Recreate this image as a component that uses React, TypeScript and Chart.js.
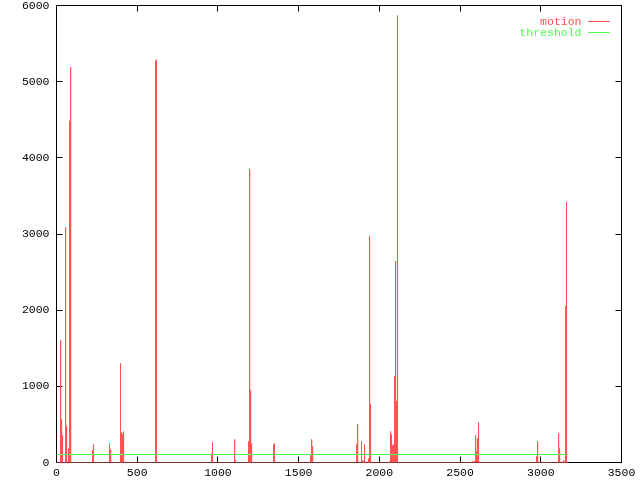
import React, { useEffect, useRef } from "react";
import { Chart, registerables } from "chart.js";

Chart.register(...registerables);

// ---- data ----
const seriesLabels = ["motion", "threshold"];
const seriesColors = ["#ff5252", "#52ff52"];

const motionStart = 0;
const motionEnd = 3170;
// frames where motion was detected, and the motion value at that frame
const spikeFrames = [
  25, 31, 37, 56, 62, 74, 81, 87,
  223, 229, 328, 335, 396, 403, 409, 415,
  613, 619, 960, 966, 1103, 1109,
  1189, 1196, 1202, 1208, 1344, 1350,
  1573, 1580, 1586, 1858, 1865, 1889, 1896, 1902, 1908,
  1933, 1939, 1945,
  2063, 2069, 2075, 2081, 2088, 2094, 2100, 2106, 2112,
  2577, 2583, 2589, 2596, 2602, 2608, 2614,
  2973, 2980, 3110, 3116, 3141, 3147, 3153, 3159,
];
const spikeValues = [
  1605, 566, 355, 3090, 473, 184, 4487, 5190,
  158, 237, 250, 171, 1302, 395, 368, 408,
  5276, 5290, 118, 263, 303, 26,
  276, 3855, 947, 250, 237, 250,
  92, 303, 211, 237, 500, 276, 26, 13, 237,
  53, 2974, 763,
  13, 408, 368, 224, 237, 1132, 2645, 803, 5868,
  13, 13, 13, 355, 145, 316, 526,
  79, 276, 382, 184, 26, 13, 2053, 3421,
];

const thresholdFrames = [0, 3170];
const thresholdValues = [105, 105];

const xMin = 0;
const xMax = 3500;
const xStep = 500;
const yMin = 0;
const yMax = 6000;
const yStep = 1000;

const FONT = "'Liberation Mono', 'DejaVu Sans Mono', monospace";
const FONT_SIZE = 11.5;

function buildMotion() {
  const pts: { x: number; y: number }[] = [{ x: motionStart, y: 0 }];
  spikeFrames.forEach((f, i) => {
    pts.push({ x: f - 1, y: 0 });
    pts.push({ x: f, y: spikeValues[i] });
    pts.push({ x: f + 1, y: 0 });
  });
  pts.push({ x: motionEnd, y: 0 });
  return pts;
}

const framePlugin = {
  id: "gnuFrame",
  beforeDatasetsDraw(chart: any) {
    const { ctx, chartArea } = chart;
    const { left, right, top, bottom } = chartArea;
    ctx.save();
    ctx.strokeStyle = "#000";
    ctx.lineWidth = 1;
    ctx.strokeRect(left, top, right - left, bottom - top);
    const tl = 6;
    ctx.beginPath();
    const xs = chart.scales.x;
    xs.ticks.forEach((t: any) => {
      const px = Math.floor(xs.getPixelForValue(t.value)) + 0.5;
      ctx.moveTo(px, bottom);
      ctx.lineTo(px, bottom - tl);
      ctx.moveTo(px, top);
      ctx.lineTo(px, top + tl);
    });
    const ys = chart.scales.y;
    ys.ticks.forEach((t: any) => {
      const py = Math.floor(ys.getPixelForValue(t.value)) + 0.5;
      ctx.moveTo(left, py);
      ctx.lineTo(left + tl, py);
      ctx.moveTo(right, py);
      ctx.lineTo(right - tl, py);
    });
    ctx.stroke();
    ctx.restore();
  },
  afterDraw(chart: any) {
    const { ctx, chartArea } = chart;
    const { right, top } = chartArea;
    ctx.save();
    ctx.font = `${FONT_SIZE}px ${FONT}`;
    ctx.textAlign = "right";
    ctx.textBaseline = "middle";
    chart.data.datasets.forEach((ds: any, i: number) => {
      const y = top + 16 + i * 11;
      ctx.fillStyle = ds.borderColor;
      ctx.fillText(ds.label, right - 40, y + 0.5);
      ctx.strokeStyle = ds.borderColor;
      ctx.lineWidth = 1;
      ctx.beginPath();
      ctx.moveTo(right - 33.5, y);
      ctx.lineTo(right - 11.5, y);
      ctx.stroke();
    });
    ctx.restore();
  },
};

function zeroPad(scale: any) {
  scale.paddingTop = 0;
  scale.paddingBottom = 0;
  scale.paddingLeft = 0;
  scale.paddingRight = 0;
}

export default function App() {
  const ref = useRef<HTMLCanvasElement | null>(null);
  useEffect(() => {
    document.body.style.margin = "0";
    const canvas = ref.current!;
    const chart = new Chart(canvas, {
      type: "line",
      data: {
        datasets: [
          {
            label: seriesLabels[0],
            data: buildMotion(),
            borderColor: seriesColors[0],
            borderWidth: 1,
            pointRadius: 0,
            tension: 0,
            order: 1,
          },
          {
            label: seriesLabels[1],
            data: thresholdFrames.map((f, i) => ({ x: f, y: thresholdValues[i] })),
            borderColor: seriesColors[1],
            borderWidth: 1,
            pointRadius: 0,
            tension: 0,
            order: 0,
          },
        ],
      },
      options: {
        animation: false,
        responsive: false,
        devicePixelRatio: 1,
        parsing: false as any,
        normalized: true,
        spanGaps: true,
        layout: { padding: { top: 5.5, right: 18.5, bottom: 0, left: 0 } },
        plugins: {
          legend: { display: false },
          tooltip: { enabled: false },
        },
        scales: {
          x: {
            type: "linear",
            min: xMin,
            max: xMax,
            grid: { display: false, drawTicks: false },
            border: { display: false },
            ticks: {
              stepSize: xStep,
              autoSkip: false,
              maxRotation: 0,
              padding: 4,
              color: "#000",
              font: { family: FONT, size: FONT_SIZE },
              callback: (v: any) => String(v),
            },
            afterFit(scale: any) {
              scale.height = 17.5;
              zeroPad(scale);
            },
          },
          y: {
            type: "linear",
            min: yMin,
            max: yMax,
            grid: { display: false, drawTicks: false },
            border: { display: false },
            ticks: {
              stepSize: yStep,
              padding: 7,
              color: "#000",
              font: { family: FONT, size: FONT_SIZE },
              callback: (v: any) => String(v),
            },
            afterFit(scale: any) {
              scale.width = 56.5;
              zeroPad(scale);
            },
          },
        },
      },
      plugins: [framePlugin],
    });
    return () => chart.destroy();
  }, []);
  return (
    <div style={{ position: "fixed", left: 0, top: 0, width: 640, height: 480, background: "#fff" }}>
      <canvas ref={ref} width={640} height={480} style={{ width: 640, height: 480, display: "block" }} />
    </div>
  );
}
